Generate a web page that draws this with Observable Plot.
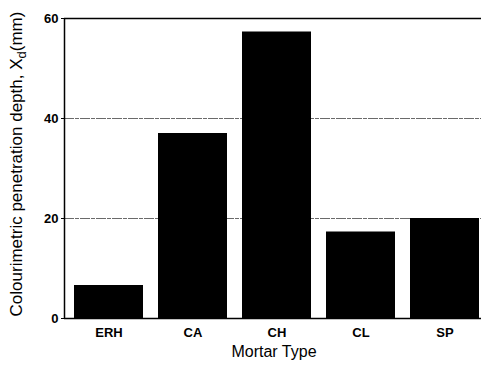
<!DOCTYPE html>
<html>
<head>
<meta charset="utf-8">
<script src="https://cdn.jsdelivr.net/npm/d3@7"></script>
<script src="https://cdn.jsdelivr.net/npm/@observablehq/plot@0.6"></script>
<style>
  html, body { margin: 0; padding: 0; background: #fff; }
  svg { font-family: "Liberation Sans", Arial, sans-serif; }
</style>
</head>
<body>
<div id="chart"></div>
<script>
const mortarTypes = ["ERH", "CA", "CH", "CL", "SP"];
const depths = [6.6, 37.0, 57.3, 17.3, 20.0];
const yTicks = [0, 20, 40, 60];
const gridValues = [20, 40];

const data = mortarTypes.map((m, i) => ({type: m, depth: depths[i]}));

const chart = Plot.plot({
  width: 481,
  height: 368,
  marginLeft: 64,
  marginRight: 0,
  marginTop: 18,
  marginBottom: 50,
  style: {background: "#fff", color: "#000", fontFamily: "Liberation Sans, Arial, sans-serif", overflow: "visible"},
  x: {domain: mortarTypes, range: [66, 486], paddingInner: 0.18, paddingOuter: 0.09, label: null},
  y: {domain: [0, 60], ticks: yTicks, label: null},
  marks: [
    Plot.ruleY(gridValues, {stroke: "#444", strokeWidth: 0.8, strokeDasharray: "10,1,4,1"}),
    Plot.barY(data, {x: "type", y: "depth", fill: "#000"}),
    Plot.ruleY([0, 60], {stroke: "#000", strokeWidth: 1.5}),
    Plot.axisY({ticks: yTicks, tickSize: 3, tickPadding: 3, fontSize: 13, fontWeight: "bold", label: null}),
    Plot.axisX({tickSize: 0, tickPadding: 9, fontSize: 13, fontWeight: "bold", label: null})
  ]
});

const svg = d3.select(chart);
const ys = chart.scale("y");
svg.append("line")
  .attr("x1", 64.5).attr("x2", 64.5)
  .attr("y1", ys.apply(0)).attr("y2", ys.apply(60))
  .attr("stroke", "#000").attr("stroke-width", 1.5);

svg.append("text")
  .attr("x", 274).attr("y", 357)
  .attr("text-anchor", "middle")
  .attr("font-size", 16)
  .attr("fill", "#000")
  .text("Mortar Type");

const yl = svg.append("text")
  .attr("transform", "translate(22,164) rotate(-90)")
  .attr("text-anchor", "middle")
  .attr("font-size", 17)
  .attr("fill", "#000");
yl.append("tspan").text("Colourimetric penetration depth, X");
yl.append("tspan").attr("dy", 4).attr("font-size", 13).text("d");
yl.append("tspan").attr("dy", -4).text("(mm)");

document.getElementById("chart").appendChild(chart);
</script>
</body>
</html>
